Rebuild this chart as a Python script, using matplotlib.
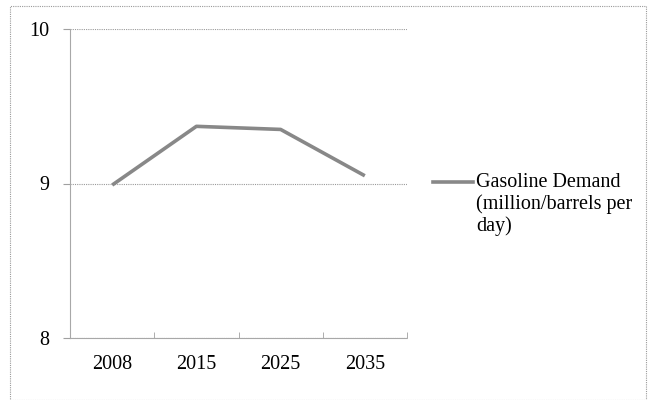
import matplotlib.pyplot as plt
from matplotlib.lines import Line2D
from matplotlib.patches import Rectangle

years = ["2008", "2015", "2025", "2035"]
demand = [8.99, 9.37, 9.35, 9.05]
y_ticks = [8, 9, 10]
series_label = ["Gasoline Demand", "(million/barrels per", "day)"]

plt.rcParams['font.family'] = ['Liberation Serif', 'DejaVu Serif']

fig = plt.figure(figsize=(6.49, 4.0), dpi=100)
ax = fig.add_axes([0.108, 0.155, 0.519, 0.7725])

x = range(len(years))
line_color = '#888888'
ax.plot(x, demand, color=line_color, linewidth=2.6, solid_capstyle='butt')

ax.set_xlim(-0.5, len(years) - 0.5)
ax.set_ylim(8, 10)
ax.set_yticks(y_ticks)
ax.set_xticks(list(x))
ax.set_xticklabels(years)
ax.set_xticks([i + 0.5 for i in range(-1, len(years))], minor=True)

for y in y_ticks:
    ax.axhline(y, color='#9a9a9a', linewidth=0.8, linestyle=(0, (1, 1)), zorder=0)

for side in ['top', 'right']:
    ax.spines[side].set_visible(False)
for side in ['left', 'bottom']:
    ax.spines[side].set_color('#a8a8a8')
    ax.spines[side].set_linestyle((0, (1, 1)))

ax.tick_params(axis='y', length=5, color='#a0a0a0', labelsize=14.5, pad=10)
ax.tick_params(axis='x', which='major', length=0, labelsize=14.5, pad=12)
ax.tick_params(axis='x', which='minor', length=4, color='#a0a0a0', direction='in')

# legend drawn by hand so the key sits beside the first text line
fig.add_artist(Line2D([433 / 649, 473 / 649], [1 - 182 / 400] * 2,
                      transform=fig.transFigure, color=line_color, linewidth=2.6))
for i, txt in enumerate(series_label):
    fig.text(476 / 649, 1 - (182 + 22 * i) / 400, txt, fontsize=14.5,
             va='center', ha='left')

fig.patches.append(Rectangle((0.015, 0.0), 0.98, 0.985, transform=fig.transFigure,
                             fill=False, edgecolor='#9a9a9a', linewidth=0.8,
                             linestyle=(0, (1, 1))))

fig.savefig('out.png', dpi=100)
